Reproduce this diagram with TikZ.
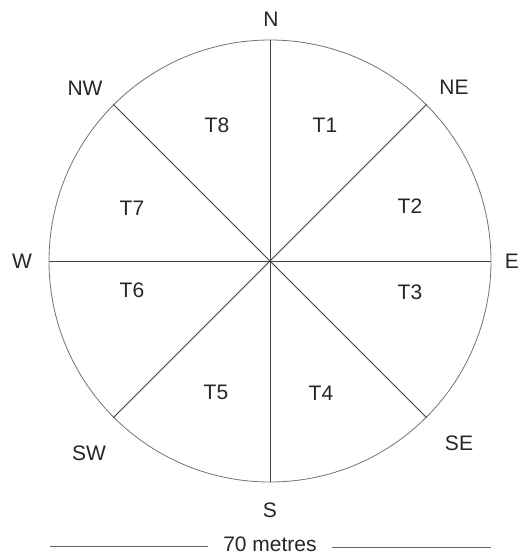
\documentclass[tikz,border=0pt]{standalone}
\usepackage{fontspec}
\setmainfont{Liberation Sans}
\usetikzlibrary{positioning,calc}
\tikzset{
  rim/.style={circle, draw=black!55, line width=0.8pt,
              minimum size=#1, inner sep=0pt},
  rim/.default=442pt,
  spoke/.style={draw=black!75, line width=0.9pt},
  lab/.style={font=\fontsize{21}{21}\selectfont, text=black!85, inner sep=0pt},
  scalebar/.style={draw=black!60, line width=0.9pt},
}

\begin{document}
\begin{tikzpicture}[x=1pt,y=-1pt]
  \useasboundingbox (0,0) rectangle (521,558);
  \node[rim] (rim) at (270,261) {};
  \foreach \a in {0,45,...,315}
    \draw[spoke] (rim.center) -- (rim.\a);
  % compass points
  \foreach \d/\x/\y in {N/271/19, NE/454/87, E/512/261, SE/459/443,
                        S/270/510, SW/89/453, W/22/261, NW/85/88}
    \node[lab] (d\d) at (\x,\y) {\d};
  % sectors
  \foreach \t/\x/\y in {1/325/125, 2/410/206, 3/410/292, 4/321/393,
                        5/216/392, 6/132/290, 7/132/208, 8/217/125}
    \node[lab] (t\t) at (\x,\y) {T\t};
  % scale
  \node[lab, inner xsep=15pt] (len) at (270,544) {70 metres};
  \coordinate (barL) at (50,546);
  \coordinate (barR) at (491,547);
  \draw[scalebar] (barL) -- (len.west |- barL);
  \draw[scalebar] (len.east |- barR) -- (barR);
\end{tikzpicture}
\end{document}
